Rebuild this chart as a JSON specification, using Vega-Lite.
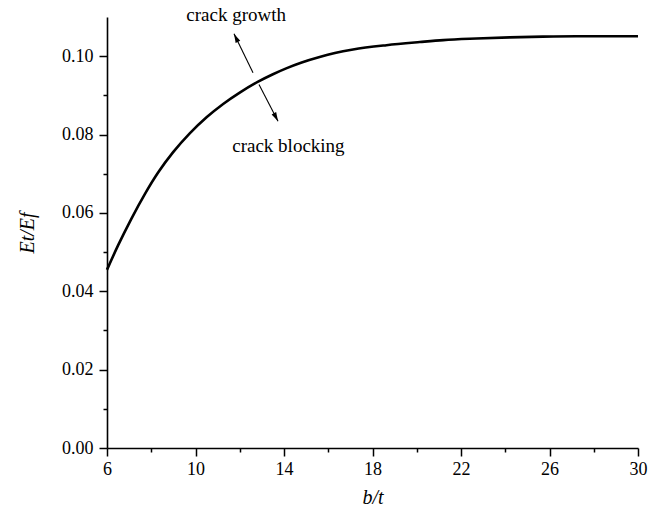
{
  "$schema": "https://vega.github.io/schema/vega-lite/v6.json",
  "width": 531,
  "height": 431,
  "autosize": "none",
  "padding": {"left": 107, "top": 17, "right": 17, "bottom": 61},
  "background": "white",
  "config": {
    "view": {"stroke": null},
    "font": "Liberation Serif",
    "axis": {
      "labelFont": "Liberation Serif",
      "titleFont": "Liberation Serif",
      "grid": false
    }
  },
  "datasets": {
    "curve": [
      {"bt": 6, "ratio": 0.0455},
      {"bt": 6.5, "ratio": 0.0517},
      {"bt": 7.1, "ratio": 0.0585},
      {"bt": 7.71, "ratio": 0.0648},
      {"bt": 8.31, "ratio": 0.0703},
      {"bt": 8.99, "ratio": 0.0755},
      {"bt": 9.74, "ratio": 0.0803},
      {"bt": 10.5, "ratio": 0.0844},
      {"bt": 11.25, "ratio": 0.0878},
      {"bt": 12.0, "ratio": 0.0907},
      {"bt": 12.83, "ratio": 0.0935},
      {"bt": 13.5, "ratio": 0.0954},
      {"bt": 14.1, "ratio": 0.0969},
      {"bt": 14.8, "ratio": 0.0984},
      {"bt": 15.61, "ratio": 0.0998},
      {"bt": 16.3, "ratio": 0.1008},
      {"bt": 17.12, "ratio": 0.1017},
      {"bt": 18.63, "ratio": 0.1028},
      {"bt": 20.14, "ratio": 0.1036},
      {"bt": 21.2, "ratio": 0.1041},
      {"bt": 22.7, "ratio": 0.1045},
      {"bt": 24.2, "ratio": 0.1048},
      {"bt": 25.7, "ratio": 0.105},
      {"bt": 27.2, "ratio": 0.1051},
      {"bt": 30, "ratio": 0.1051}
    ],
    "arrows": [
      {"arrow": "growth", "x1": 12.6, "y1": 0.0958, "x2": 11.74, "y2": 0.1057},
      {"arrow": "blocking", "x1": 12.87, "y1": 0.0928, "x2": 13.73, "y2": 0.0834}
    ],
    "labels": [
      {"label": "crack growth", "x": 11.84, "y": 0.1106},
      {"label": "crack blocking", "x": 14.2, "y": 0.077}
    ]
  },
  "layer": [
    {
      "data": {"name": "curve"},
      "mark": {"type": "line", "color": "black", "strokeWidth": 2.6, "interpolate": "monotone", "clip": false},
      "encoding": {
        "x": {
          "field": "bt", "type": "quantitative",
          "scale": {"domain": [6, 30], "nice": false, "zero": false},
          "axis": {
            "title": "b/t",
            "labelFont": "Liberation Serif",
            "titleFont": "Liberation Serif",
            "labelFontSize": 18,
            "titleFontSize": 20,
            "titleFontWeight": "normal",
            "titleFontStyle": "italic",
            "labelColor": "black",
            "titleColor": "black",
            "domainColor": "black",
            "tickColor": "black",
            "domainWidth": 1.6,
            "tickWidth": 1.5,
            "values": [6, 8, 10, 12, 14, 16, 18, 20, 22, 24, 26, 28, 30],
            "labelExpr": "(datum.value - 6) % 4 == 0 ? datum.label : ''",
            "tickSize": {"condition": {"test": "(datum.value - 6) % 4 == 0", "value": 8}, "value": 4},
            "labelPadding": 4,
            "titlePadding": 9,
            "labelFlush": false
          }
        },
        "y": {
          "field": "ratio", "type": "quantitative",
          "scale": {"domain": [0, 0.11], "nice": false},
          "axis": {
            "title": "Et/Ef",
            "labelFont": "Liberation Serif",
            "titleFont": "Liberation Serif",
            "labelFontSize": 18,
            "titleFontSize": 20,
            "titleFontWeight": "normal",
            "titleFontStyle": "italic",
            "labelColor": "black",
            "titleColor": "black",
            "domainColor": "black",
            "tickColor": "black",
            "domainWidth": 1.6,
            "tickWidth": 1.5,
            "values": [0, 0.01, 0.02, 0.03, 0.04, 0.05, 0.06, 0.07, 0.08, 0.09, 0.1],
            "format": ".2f",
            "labelExpr": "round(datum.value * 100) % 2 == 0 ? datum.label : ''",
            "tickSize": {"condition": {"test": "round(datum.value * 100) % 2 == 0", "value": 8}, "value": 4},
            "labelPadding": 6,
            "titlePadding": 24,
            "labelFlush": false
          }
        }
      }
    },
    {
      "data": {"name": "arrows"},
      "mark": {"type": "rule", "color": "black", "strokeWidth": 1.1},
      "encoding": {
        "x": {"field": "x1", "type": "quantitative"},
        "y": {"field": "y1", "type": "quantitative"},
        "x2": {"field": "x2"},
        "y2": {"field": "y2"}
      }
    },
    {
      "data": {"name": "arrows"},
      "transform": [{"filter": "datum.arrow == 'growth'"}],
      "mark": {"type": "point", "filled": true, "color": "black", "opacity": 1, "strokeWidth": 0, "shape": "M0,0L-0.85,3L0.85,3Z", "size": 36, "angle": 334, "clip": false},
      "encoding": {
        "x": {"field": "x2", "type": "quantitative"},
        "y": {"field": "y2", "type": "quantitative"}
      }
    },
    {
      "data": {"name": "arrows"},
      "transform": [{"filter": "datum.arrow == 'blocking'"}],
      "mark": {"type": "point", "filled": true, "color": "black", "opacity": 1, "strokeWidth": 0, "shape": "M0,0L-0.85,3L0.85,3Z", "size": 36, "angle": 152.6, "clip": false},
      "encoding": {
        "x": {"field": "x2", "type": "quantitative"},
        "y": {"field": "y2", "type": "quantitative"}
      }
    },
    {
      "data": {"name": "labels"},
      "mark": {"type": "text", "font": "Liberation Serif", "fontSize": 19, "color": "black", "align": "center", "baseline": "middle", "clip": false},
      "encoding": {
        "x": {"field": "x", "type": "quantitative"},
        "y": {"field": "y", "type": "quantitative"},
        "text": {"field": "label"}
      }
    }
  ]
}
